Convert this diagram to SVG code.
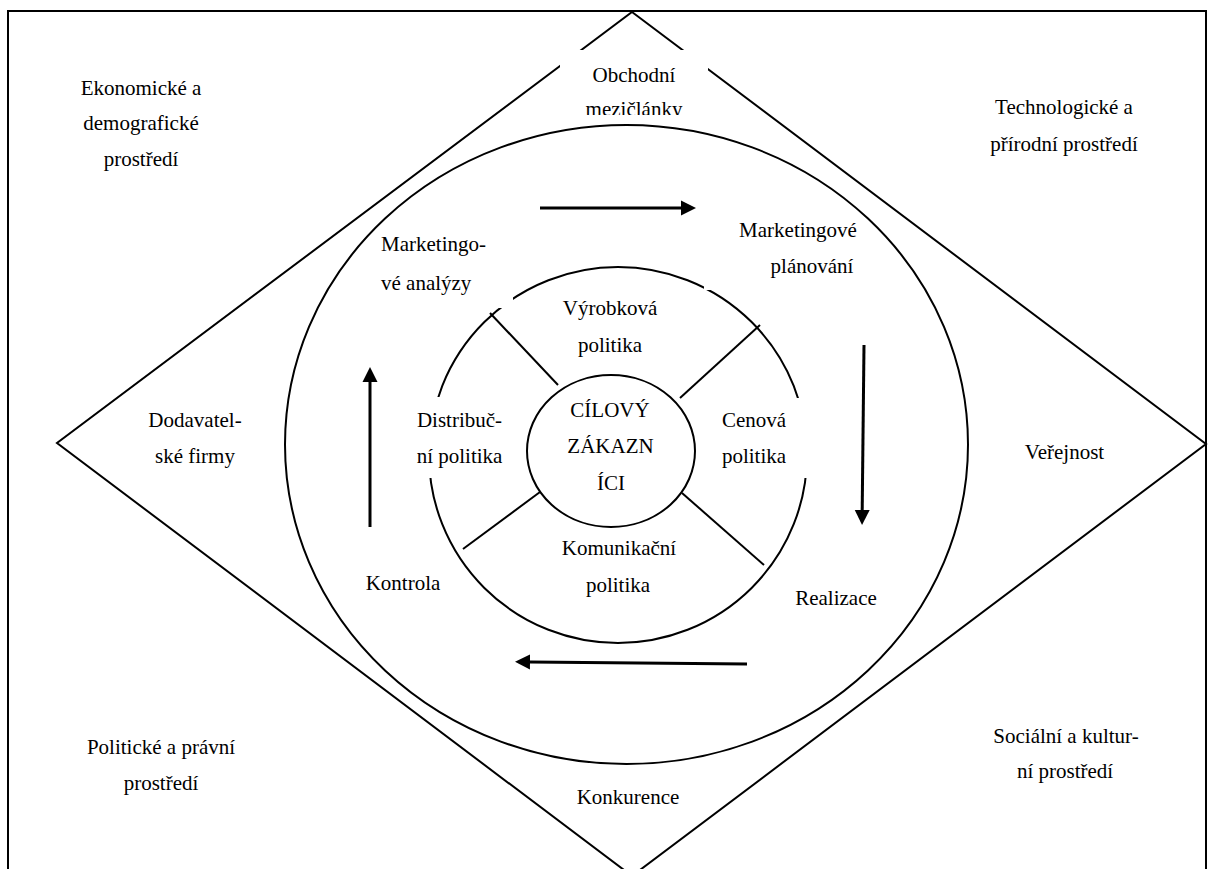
<svg xmlns="http://www.w3.org/2000/svg" width="1209" height="869" viewBox="0 0 1209 869">
<style>
.ln{fill:none;stroke:#000;stroke-width:2}
.wb{fill:#fff;stroke:none}
.t{font-family:"Liberation Serif","Times New Roman",serif;font-size:21px;fill:#000;text-anchor:middle}
.ts{text-anchor:start}
.arr{stroke:#000;stroke-width:3;fill:none;marker-end:url(#ah)}
</style>
<defs>
<marker id="ah" markerUnits="userSpaceOnUse" markerWidth="16" markerHeight="16" viewBox="0 -8 16 16" refX="0" refY="0" orient="auto">
<path d="M0,-7.5 L15,0 L0,7.5 Z" fill="#000"/>
</marker>
<clipPath id="cTop"><rect x="560" y="50" width="148" height="65"/></clipPath>
<clipPath id="cBot"><rect x="540" y="770" width="180" height="34"/></clipPath>
</defs>
<rect width="1209" height="869" fill="#fff"/>
<g id="frame">
<rect class="ln" x="8" y="11" width="1198" height="880"/>
</g>
<g id="diamond">
<polygon class="ln" points="632,12 1206,444 632,876 57,443"/>
</g>
<g id="outer-ring">
<ellipse class="ln" cx="626.5" cy="444.5" rx="341.5" ry="319.5"/>
</g>
<g id="inner-ring">
<ellipse class="ln" cx="618" cy="455" rx="189" ry="188"/>
<rect class="wb" x="410" y="397" width="98" height="81"/>
<rect class="wb" x="712" y="398" width="100" height="80"/>
<rect class="wb" x="470" y="280" width="43" height="28"/>
<rect class="wb" x="704" y="280" width="8" height="10"/>
<line class="ln" x1="490" y1="313" x2="558" y2="385"/>
<line class="ln" x1="760" y1="325" x2="680" y2="398"/>
<line class="ln" x1="540" y1="492" x2="463" y2="549"/>
<line class="ln" x1="682" y1="493" x2="764" y2="565"/>
</g>
<g id="center">
<ellipse class="ln" cx="611" cy="451" rx="84" ry="76" fill="#fff"/>
<text class="t" x="610" y="417">CÍLOVÝ</text>
<text class="t" x="610.5" y="453">ZÁKAZN</text>
<text class="t" x="611" y="490">ÍCI</text>
</g>
<g id="obchodni">
<rect class="wb" x="560" y="50" width="148" height="65"/>
<g clip-path="url(#cTop)">
<text class="t" x="634" y="82">Obchodní</text>
<text class="t" x="634" y="116">mezičlánky</text>
</g>
</g>
<g id="konkurence">
<g clip-path="url(#cBot)">
<text class="t" x="628" y="804">Konkurence</text>
</g>
</g>
<g id="ekonomicke">
<text class="t" x="141" y="95">Ekonomické a</text>
<text class="t" x="141" y="130">demografické</text>
<text class="t" x="141" y="166">prostředí</text>
</g>
<g id="technologicke">
<text class="t" x="1064" y="114">Technologické a</text>
<text class="t" x="1064" y="151">přírodní prostředí</text>
</g>
<g id="dodavatelske">
<text class="t" x="195" y="427">Dodavatel-</text>
<text class="t" x="195" y="463">ské firmy</text>
</g>
<g id="verejnost">
<text class="t" x="1064.5" y="459">Veřejnost</text>
</g>
<g id="politicke">
<text class="t" x="161" y="754">Politické a právní</text>
<text class="t" x="161" y="790">prostředí</text>
</g>
<g id="socialni">
<text class="t" x="1066" y="743">Sociální a kultur-</text>
<text class="t" x="1065" y="778">ní prostředí</text>
</g>
<g id="analyzy">
<text class="t ts" x="381" y="251">Marketingo-</text>
<text class="t ts" x="381" y="290">vé analýzy</text>
</g>
<g id="planovani">
<text class="t" x="798" y="237">Marketingové</text>
<text class="t" x="812" y="273">plánování</text>
</g>
<g id="realizace">
<text class="t" x="836" y="605">Realizace</text>
</g>
<g id="kontrola">
<text class="t" x="403" y="590">Kontrola</text>
</g>
<g id="vyrobkova">
<text class="t" x="610" y="315">Výrobková</text>
<text class="t" x="610" y="352">politika</text>
</g>
<g id="distribucni">
<text class="t" x="459.5" y="427">Distribuč-</text>
<text class="t" x="459.5" y="463">ní politika</text>
</g>
<g id="cenova">
<text class="t" x="754" y="427">Cenová</text>
<text class="t" x="754" y="463">politika</text>
</g>
<g id="komunikacni">
<text class="t" x="619" y="555">Komunikační</text>
<text class="t" x="618" y="592">politika</text>
</g>
<g id="connectors">
<line class="arr" x1="540" y1="208" x2="681" y2="208"/>
<line class="arr" x1="864" y1="345" x2="862.2" y2="510"/>
<line class="arr" x1="747" y1="664" x2="530" y2="662"/>
<line class="arr" x1="370" y1="527" x2="370" y2="382"/>
</g>
</svg>
